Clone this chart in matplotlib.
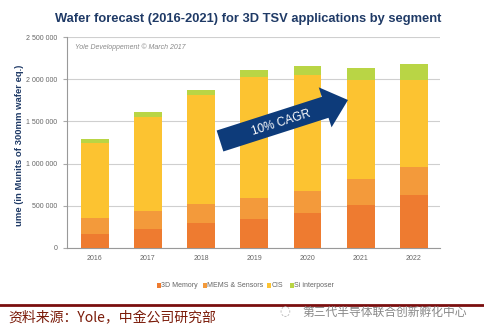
import matplotlib
matplotlib.use("Agg")
import matplotlib.pyplot as plt
import numpy as np
from matplotlib.patches import Polygon, Rectangle
from matplotlib.transforms import IdentityTransform

years = ["2016", "2017", "2018", "2019", "2020", "2021", "2022"]
mem_3d = [170000, 225000, 296000, 347000, 419000, 509000, 628000]
mems = [185000, 213000, 225000, 245000, 260000, 308000, 332000]
cis = [889000, 1118000, 1288000, 1430000, 1367000, 1170000, 1027000]
si_interposer = [44000, 55000, 67000, 83000, 114000, 149000, 189000]
series_names = ["3D Memory", "MEMS & Sensors", "CIS", "Si interposer"]
colors = ["#EE7B30", "#F39A3B", "#FCC331", "#B9D545"]
yticks = [0, 500000, 1000000, 1500000, 2000000, 2500000]
ytick_labels = ["0", "500 000", "1 000 000", "1 500 000", "2 000 000", "2 500 000"]

W, H = 485, 334
fig = plt.figure(figsize=(W / 100, H / 100), dpi=100)
ax = fig.add_axes([67 / W, 1 - 248 / H, (440 - 67) / W, (248 - 37) / H])

x = np.arange(len(years))
bottom = np.zeros(len(years))
for vals, c in zip([mem_3d, mems, cis, si_interposer], colors):
    ax.bar(x, vals, bottom=bottom, width=0.52, color=c, zorder=3)
    bottom += np.array(vals)

ax.set_xlim(-0.52, 6.49)
ax.set_ylim(0, 2500000)
ax.set_yticks(yticks)
ax.set_yticklabels(ytick_labels)
ax.set_xticks(x)
ax.set_xticklabels(years)
for lab in ax.get_xticklabels() + ax.get_yticklabels():
    lab.set_family("Liberation Sans")
ax.tick_params(axis="both", labelsize=5.0, colors="#666666", length=0, pad=5)
ax.tick_params(axis="y", length=3, color="#aaaaaa", pad=4)
ax.grid(axis="y", color="#cfcfcf", linewidth=0.8, zorder=0)
for s in ["top", "right"]:
    ax.spines[s].set_visible(False)
for s in ["left", "bottom"]:
    ax.spines[s].set_color("#999999")
    ax.spines[s].set_linewidth(0.8)

# Title and notes
fig.text(248 / W, 1 - 19 / H, "Wafer forecast (2016-2021) for 3D TSV applications by segment",
         ha="center", va="center", fontsize=9.3, fontweight="bold", color="#1F3A66",
         family="Liberation Sans")
fig.text(75 / W, 1 - 47 / H, "Yole Developpement © March 2017", ha="left", va="center",
         fontsize=5.0, style="italic", color="#8a8a8a", family="Liberation Sans")
fig.text(20 / W, 1 - 145 / H, "ume (in Munits of 300mm wafer eq.)", rotation=90,
         ha="center", va="center", fontsize=6.8, fontweight="bold", color="#1F3A66",
         family="Liberation Sans")

# Arrow with CAGR
p0 = np.array([220.0, 141.0])
tip = np.array([348.0, 100.0])
u = (tip - p0) / np.linalg.norm(tip - p0)
n = np.array([-u[1], u[0]])
hw, hhw, hl = 11.0, 21.0, 24.0
base = tip - u * hl
pts = [p0 + n * hw, base + n * hw, base + n * hhw, tip, base - n * hhw, base - n * hw, p0 - n * hw]
pts = [(p[0], H - p[1]) for p in pts]
fig.patches.append(Polygon(pts, closed=True, transform=IdentityTransform(),
                           facecolor="#0D3B7A", edgecolor="none", zorder=10))
ang = np.degrees(np.arctan2(41, 128))
fig.text(281 / W, 1 - 123 / H, "10% CAGR", rotation=ang, rotation_mode="anchor",
         ha="center", va="center", fontsize=8.5, color="white", zorder=11,
         family="Liberation Sans")

# Legend
legend_x = [157, 203, 267, 290]
for lx, name, c in zip(legend_x, series_names, colors):
    fig.patches.append(Rectangle((lx, H - 288), 3.5, 5, transform=IdentityTransform(),
                                 facecolor=c, edgecolor="none"))
    fig.text((lx + 4.5) / W, 1 - 285.5 / H, name, ha="left", va="center",
             fontsize=5.0, color="#666666", family="Liberation Sans")

# Footer
fig.add_artist(plt.Line2D([0, 1], [1 - 305 / H, 1 - 305 / H], transform=fig.transFigure,
                          color="#7A0E0E", linewidth=2))
fig.text(8 / W, 1 - 318 / H, "资料来源：Yole，中金公司研究部", ha="left", va="center",
         fontsize=10, color="#7A1A08",
         family=["Noto Sans CJK SC", "DejaVu Sans"])
fig.text(302 / W, 1 - 312 / H, "第三代半导体联合创新孵化中心", ha="left", va="center",
         fontsize=8.5, color="#888888",
         family=["Noto Sans CJK SC", "DejaVu Sans"])
fig.text(285 / W, 1 - 312 / H, "◌", ha="center", va="center", fontsize=9, color="#aaaaaa")

fig.savefig("out.png", dpi=100)
